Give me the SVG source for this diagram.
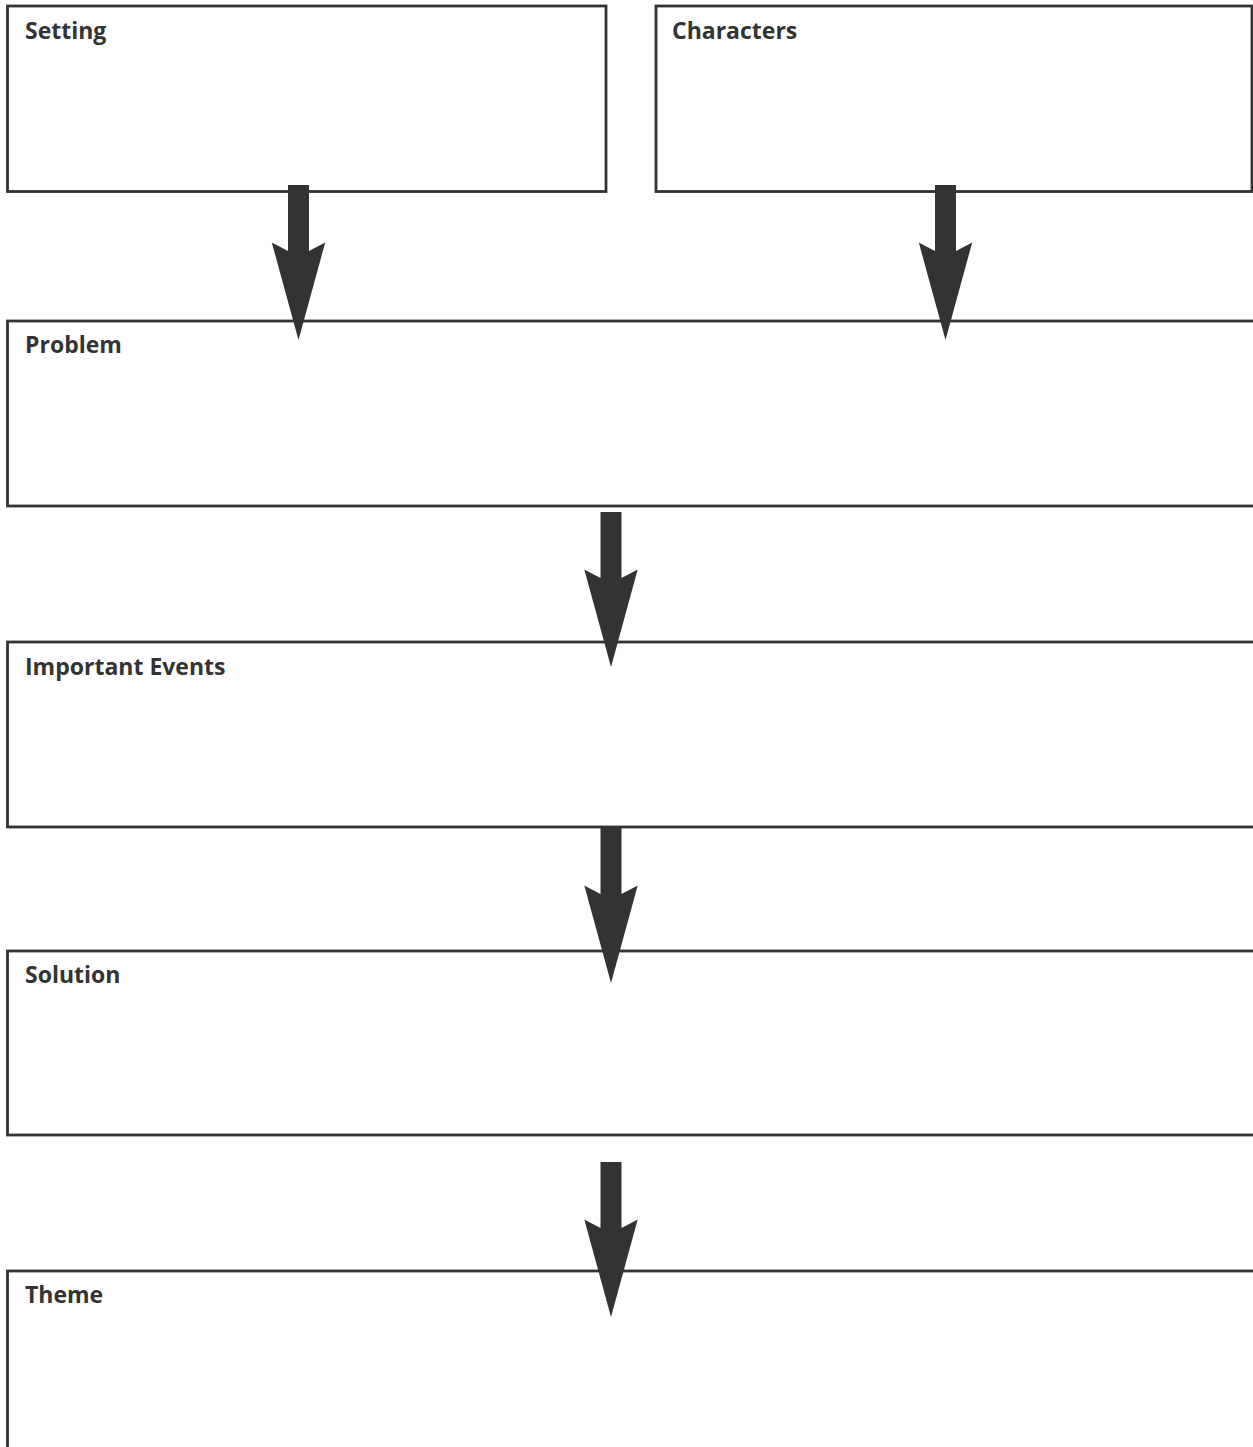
<svg xmlns="http://www.w3.org/2000/svg" width="1253" height="1447" viewBox="0 0 1253 1447">
<defs>
<style>
.box{fill:#fff;stroke:#333;stroke-width:2.8}
.lbl{font-family:"Open Sans","Liberation Sans",sans-serif;font-weight:700;font-size:23px;fill:#333}
.arr{fill:#333}
</style>
<path id="arrow" d="M-10.5,0 H10.5 V66 L26.7,57.5 L0,155 L-26.7,57.5 L-10.5,66 Z"/>
</defs>
<rect width="1253" height="1447" fill="#fff"/>
<g id="setting"><rect class="box" x="7.5" y="6" width="598.5" height="185.5"/><text class="lbl" x="25" y="39">Setting</text></g>
<g id="characters"><rect class="box" x="656" y="6" width="596" height="185.5"/><text class="lbl" x="672" y="39">Characters</text></g>
<g id="problem"><rect class="box" x="7.5" y="321" width="1260" height="185"/><text class="lbl" x="25" y="353">Problem</text></g>
<g id="events"><rect class="box" x="7.5" y="642" width="1260" height="185"/><text class="lbl" x="25" y="675">Important Events</text></g>
<g id="solution"><rect class="box" x="7.5" y="951" width="1260" height="184"/><text class="lbl" x="25" y="983">Solution</text></g>
<g id="theme"><rect class="box" x="7.5" y="1271" width="1260" height="200"/><text class="lbl" x="25" y="1303">Theme</text></g>
<g id="connectors" class="arr">
<use href="#arrow" x="298.5" y="185"/>
<use href="#arrow" x="945.5" y="185"/>
<use href="#arrow" x="611" y="512"/>
<use href="#arrow" x="611" y="828"/>
<use href="#arrow" x="611" y="1162"/>
</g>
</svg>
